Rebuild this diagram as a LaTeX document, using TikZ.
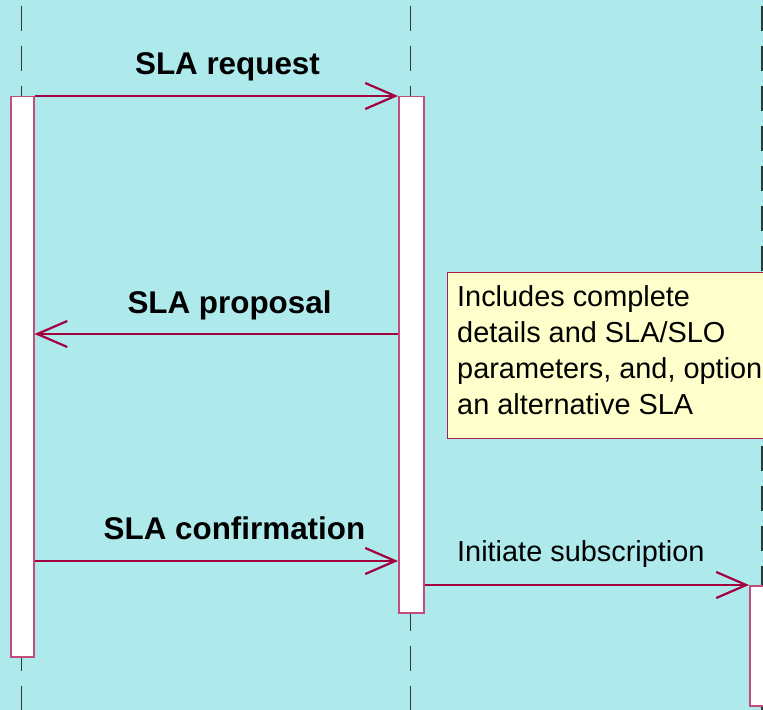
\documentclass[tikz,border=0pt]{standalone}
\usepackage{fontspec}
\setmainfont{Liberation Sans}
\usetikzlibrary{arrows.meta}

\definecolor{bgcyan}{HTML}{AEEAEC}
\definecolor{msgred}{HTML}{A3003F}
\definecolor{actedge}{HTML}{C24C7C}
\definecolor{notefill}{HTML}{FFFFCC}
\definecolor{noteedge}{HTML}{A8204A}
\definecolor{lifegray}{HTML}{283838}

\begin{document}
\begin{tikzpicture}[x=1bp, y=-1bp,
  lifeline/.style={lifegray, line width=1.4bp, dash pattern=on 25bp off 15bp},
  activation/.style={draw=actedge, fill=white, line width=1.5bp, inner sep=0pt,
    anchor=north west},
  msg/.style={msgred, line width=1.2bp,
    -{Straight Barb[length=30bp, width=26bp, line width=2.2bp]}},
  msglabel/.style={font=\fontsize{31.5}{36}\selectfont\bfseries, anchor=base,
    inner sep=0pt},
  plainlabel/.style={font=\fontsize{29}{36}\selectfont, anchor=base west,
    inner sep=0pt},
  notebox/.style={draw=noteedge, fill=notefill, line width=1bp, inner sep=0pt,
    anchor=north west}
]
  % canvas
  \fill[bgcyan] (0,0) rectangle (763,710);
  \useasboundingbox (0,0) rectangle (763,710);
  \clip (0,0) rectangle (763,710);

  % lifelines
  \coordinate (l1top) at (21.5,6);   \coordinate (l1bot) at (21.5,720);
  \coordinate (l2top) at (410.5,6);  \coordinate (l2bot) at (410.5,720);
  \coordinate (l3top) at (762,6);    \coordinate (l3bot) at (762,720);
  \draw[lifeline] (l1top) -- (l1bot);
  \draw[lifeline] (l2top) -- (l2bot);
  \draw[lifeline] (l3top) -- (l3bot);

  % activation bars
  \node[activation, minimum width=23bp, minimum height=560bp] (act1) at (10,96) {};
  \node[activation, minimum width=25bp, minimum height=516bp] (act2) at (398,96) {};
  \node[activation, minimum width=25bp, minimum height=120bp] (act3) at (749,585) {};

  % note
  \node[notebox, minimum width=340bp, minimum height=166bp] (note) at (447,272) {};
  \node[plainlabel] (noteA) at (457,306) {Includes complete};
  \node[plainlabel] (noteB) at (457,342) {details and SLA/SLO};
  \node[plainlabel] (noteC) at (457,378) {parameters, and, optionally,};
  \node[plainlabel] (noteD) at (457,414) {an alternative SLA};

  % message rows
  \coordinate (yprop) at (0,334);
  \coordinate (yconf) at (0,561);
  \coordinate (yinit) at (0,585);

  \draw[msg] (act1.north east) -- (act2.north west);
  \draw[msg] (act2.west |- yprop) -- (act1.east |- yprop);
  \draw[msg] (act1.east |- yconf) -- (act2.west |- yconf);
  \draw[msg] (act2.east |- yinit) -- (act3.north west);

  % message labels
  \node[msglabel] (lreq)  at (227.5,74.3) {SLA request};
  \node[msglabel] (lprop) at (229.5,313) {SLA proposal};
  \node[msglabel] (lconf) at (234.5,539) {SLA confirmation};
  \node[plainlabel] (linit) at (457,561) {Initiate subscription};
\end{tikzpicture}
\end{document}
